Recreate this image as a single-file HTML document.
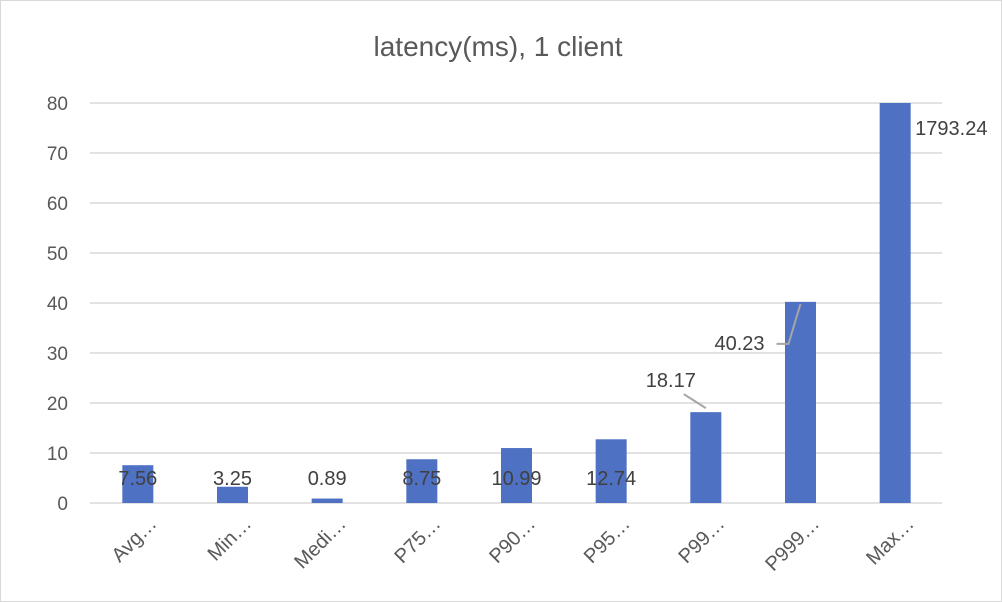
<!DOCTYPE html>
<html><head><meta charset="utf-8"><style>
body{margin:0;background:#fff}
svg{display:block;font-family:"Liberation Sans",sans-serif}
</style></head><body>
<svg id="c" width="1002" height="602">
<rect x="0.5" y="0.5" width="1001" height="601" fill="#fff" stroke="#d9d9d9"/>
<text x="498" y="56" text-anchor="middle" font-size="28" fill="#595959">latency(ms), 1 client</text>
<g id="grid"></g><g id="bars"></g><g id="labels"></g>
</svg>
<script>
const categories=["Avg…","Min…","Medi…","P75…","P90…","P95…","P99…","P999…","Max…"];
const values=[7.56,3.25,0.89,8.75,10.99,12.74,18.17,40.23,1793.24];
const valueLabels=["7.56","3.25","0.89","8.75","10.99","12.74","18.17","40.23","1793.24"];
const ticks=[0,10,20,30,40,50,60,70,80];
const NS="http://www.w3.org/2000/svg";
const x0=90,x1=942,yMax=80,y0=503,yTop=103;
const bw=(x1-x0)/categories.length;
const y=v=>y0-(Math.min(v,yMax)/yMax)*(y0-yTop);
const xc=i=>x0+bw*(i+0.5)+0.5;
function mk(t,a,p){const e=document.createElementNS(NS,t);for(const k in a)e.setAttribute(k,a[k]);p.appendChild(e);return e;}
const g=document.getElementById('grid');
ticks.forEach(t=>{
 const l=mk('line',{x1:x0,x2:x1,y1:y(t),y2:y(t),stroke:'#d9d9d9','stroke-width':1.5},g);
 
 
 const tx=mk('text',{x:68,y:y(t)+7,'text-anchor':'end','font-size':19,fill:'#595959'},g);
 tx.textContent=t;
 
 
});
const b=document.getElementById('bars'),lb=document.getElementById('labels');
values.forEach((v,i)=>{
 const r=mk('rect',{x:xc(i)-15.5,y:y(v),width:31,height:y0-y(v),fill:'#4f71c4'},b);
 
 
 const cx=xc(i),cy=y0+22;
 const ct=mk('text',{x:cx+20,y:cy,'text-anchor':'end','font-size':20,fill:'#595959',transform:`rotate(-45 ${cx+20} ${cy})`},lb);
 ct.textContent=categories[i];
 
 
 let lx=cx,ly=485,anchor='middle';
 if(i===6){lx=cx-35;ly=387;mk('polyline',{points:`${cx-22},${y(v)-18} ${cx},${y(v)-4}`,fill:'none',stroke:'#a6a6a6','stroke-width':2},lb);}
 if(i===7){lx=cx-61;ly=350;mk('polyline',{points:`${cx-24},${y(v)+42} ${cx-12},${y(v)+42} ${cx},${y(v)+2}`,fill:'none',stroke:'#a6a6a6','stroke-width':2},lb);}
 if(i===8){lx=cx+20;ly=135;anchor='start';}
 const vt=mk('text',{x:lx,y:ly,'text-anchor':anchor,'font-size':20,fill:'#404040'},lb);
 vt.textContent=valueLabels[i];
 
 
});
</script>
</body></html>
